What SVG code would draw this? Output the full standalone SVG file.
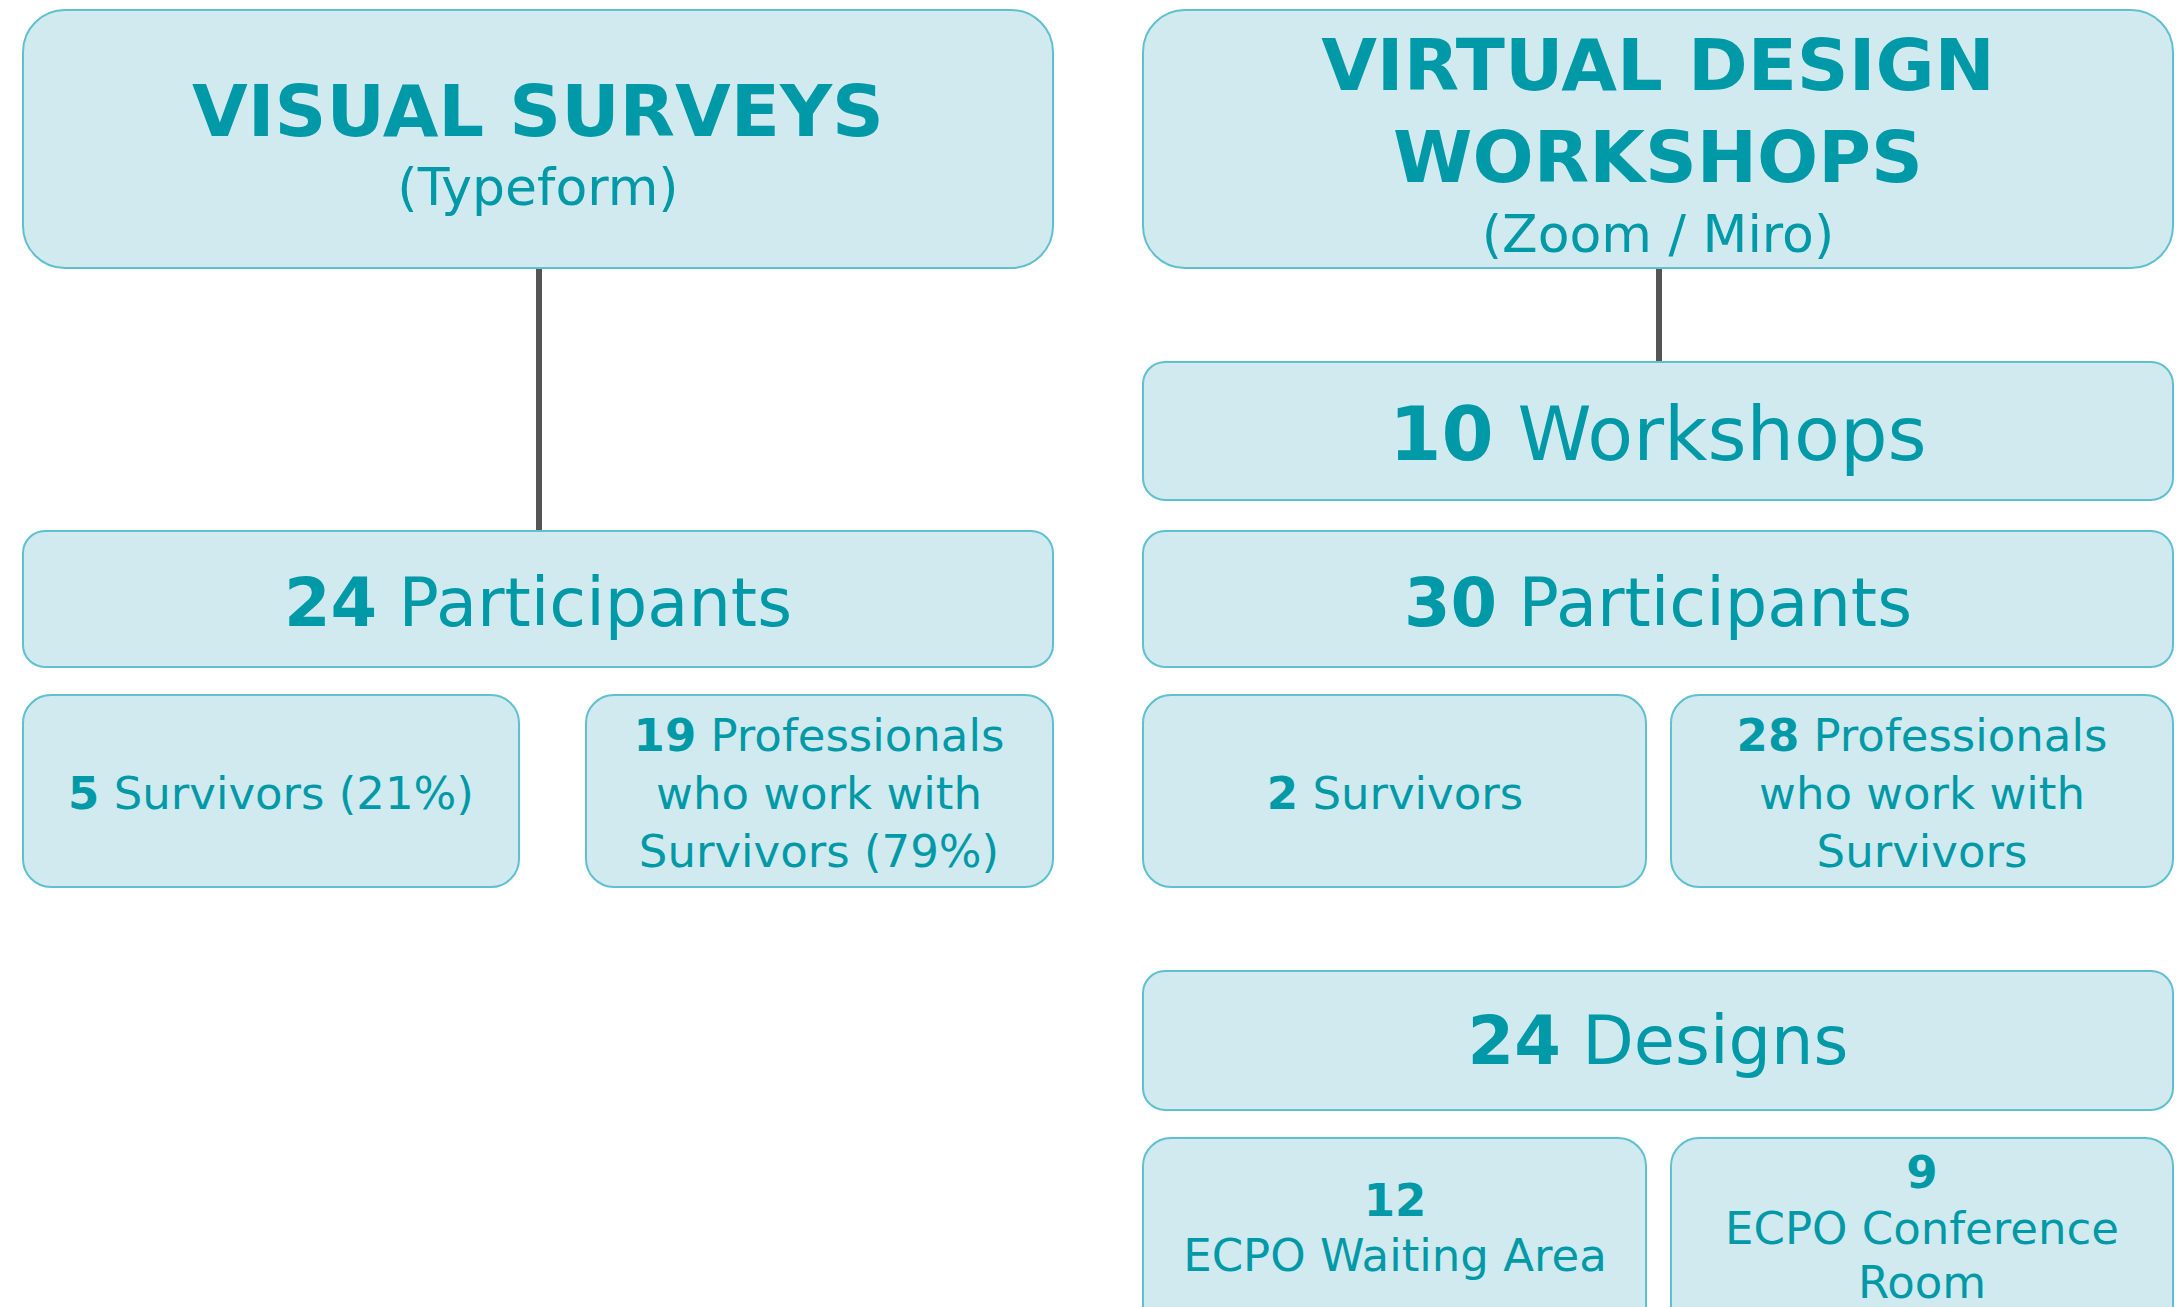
<svg xmlns="http://www.w3.org/2000/svg" width="2178" height="1307" viewBox="0 0 2178 1307">
  <style>
    .box { fill: #D1EAEF; stroke: #5FC0CF; stroke-width: 2; }
    .t { font-family: "DejaVu Sans", "Liberation Sans", sans-serif; fill: #0099A8; text-anchor: middle; }
    .h { font-weight: bold; font-size: 72px; }
    .sub { font-size: 52px; }
    .mid { font-size: 67px; }
    .big { font-size: 75px; }
    .sm { font-size: 45px; }
    .b { font-weight: bold; }
    .link { stroke: #555555; stroke-width: 6; fill: none; }
  </style>
  <rect width="2178" height="1307" fill="#FFFFFF"/>

  <!-- connectors -->
  <g id="connectors">
    <line class="link" x1="539" y1="268" x2="539" y2="531"/>
    <line class="link" x1="1659" y1="268" x2="1659" y2="362"/>
  </g>

  <!-- left column: surveys -->
  <g id="visual-surveys">
    <rect class="box" x="23" y="10" width="1030" height="258" rx="42"/>
    <text class="t h" x="538" y="136">VISUAL SURVEYS</text>
    <text class="t sub" x="538" y="205">(Typeform)</text>
  </g>
  <g id="survey-participants">
    <rect class="box" x="23" y="531" width="1030" height="136" rx="22"/>
    <text class="t mid" x="538" y="626"><tspan class="b">24</tspan> Participants</text>
  </g>
  <g id="survey-survivors">
    <rect class="box" x="23" y="695" width="496" height="192" rx="28"/>
    <text class="t sm" x="271" y="809"><tspan class="b">5</tspan> Survivors (21%)</text>
  </g>
  <g id="survey-professionals">
    <rect class="box" x="586" y="695" width="467" height="192" rx="28"/>
    <text class="t sm" x="819" y="751"><tspan class="b">19</tspan> Professionals</text>
    <text class="t sm" x="819" y="809">who work with</text>
    <text class="t sm" x="819" y="867">Survivors (79%)</text>
  </g>

  <!-- right column: workshops -->
  <g id="design-workshops">
    <rect class="box" x="1143" y="10" width="1030" height="258" rx="42"/>
    <text class="t h" x="1658" y="90">VIRTUAL DESIGN</text>
    <text class="t h" x="1658" y="182">WORKSHOPS</text>
    <text class="t sub" x="1658" y="252">(Zoom / Miro)</text>
  </g>
  <g id="workshop-count">
    <rect class="box" x="1143" y="362" width="1030" height="138" rx="22"/>
    <text class="t big" x="1658" y="460"><tspan class="b">10</tspan> Workshops</text>
  </g>
  <g id="workshop-participants">
    <rect class="box" x="1143" y="531" width="1030" height="136" rx="22"/>
    <text class="t mid" x="1658" y="626"><tspan class="b">30</tspan> Participants</text>
  </g>
  <g id="workshop-survivors">
    <rect class="box" x="1143" y="695" width="503" height="192" rx="28"/>
    <text class="t sm" x="1395" y="809"><tspan class="b">2</tspan> Survivors</text>
  </g>
  <g id="workshop-professionals">
    <rect class="box" x="1671" y="695" width="502" height="192" rx="28"/>
    <text class="t sm" x="1922" y="751"><tspan class="b">28</tspan> Professionals</text>
    <text class="t sm" x="1922" y="809">who work with</text>
    <text class="t sm" x="1922" y="867">Survivors</text>
  </g>
  <g id="designs">
    <rect class="box" x="1143" y="971" width="1030" height="139" rx="22"/>
    <text class="t mid" x="1658" y="1064"><tspan class="b">24</tspan> Designs</text>
  </g>
  <g id="waiting-area">
    <rect class="box" x="1143" y="1138" width="503" height="200" rx="28"/>
    <text class="t sm b" x="1395" y="1216">12</text>
    <text class="t sm" x="1395" y="1271">ECPO Waiting Area</text>
  </g>
  <g id="conference-room">
    <rect class="box" x="1671" y="1138" width="502" height="200" rx="28"/>
    <text class="t sm b" x="1922" y="1188">9</text>
    <text class="t sm" x="1922" y="1244">ECPO Conference</text>
    <text class="t sm" x="1922" y="1298">Room</text>
  </g>
</svg>
